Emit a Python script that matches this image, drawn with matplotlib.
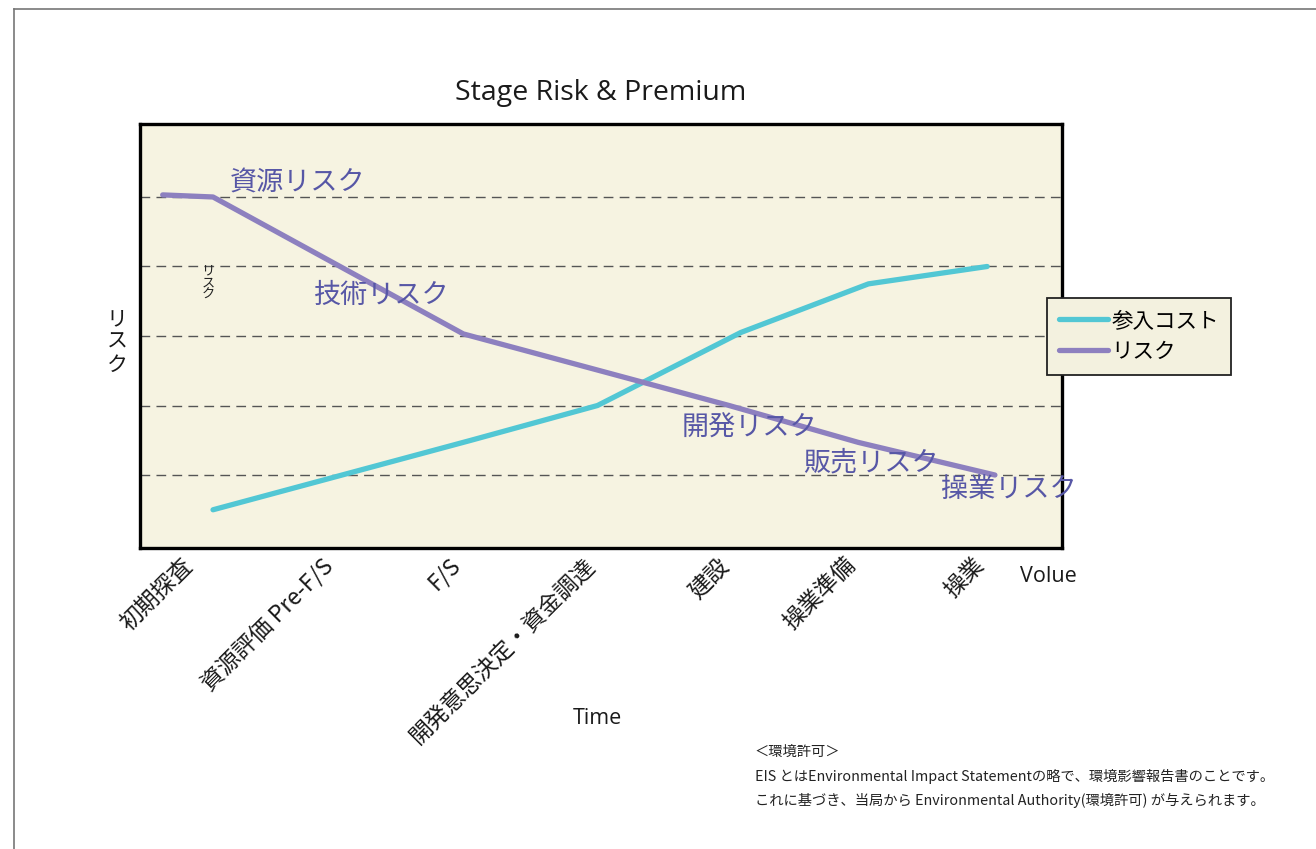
import matplotlib
matplotlib.use("Agg")
import matplotlib.pyplot as plt
from matplotlib.lines import Line2D
from matplotlib.transforms import ScaledTranslation

plt.rcParams['font.family'] = ['Noto Sans CJK JP', 'DejaVu Sans']

# ---- data ----
categories = ["初期探査", "資源評価 Pre-F/S", "F/S", "開発意思決定・資金調達", "建設", "操業準備", "操業"]
category_pos = [-0.12, 0.97, 1.96, 3.0, 4.04, 5.02, 6.02]
cost_x = [0, 1, 2, 2.98, 4.09, 5.08, 6.0]
cost_y = [0.50, 1.0, 1.5, 2.0, 3.05, 3.75, 4.0]
risk_x = [-0.39, 0, 1.94, 3.0, 4.0, 5.0, 6.06]
risk_y = [5.03, 5.0, 3.03, 2.5, 2.0, 1.47, 1.0]
grid_levels = [1, 2, 3, 4, 5]
risk_labels = ["資源リスク", "技術リスク", "開発リスク", "販売リスク", "操業リスク"]
risk_label_x = [0.13, 0.78, 3.63, 4.57, 5.64]
risk_label_y = [5.21, 3.58, 1.68, 1.17, 0.79]
legend_labels = ["参入コスト", "リスク"]

cyan = "#52c7d4"
purple = "#8d80bf"
text_blue = "#5757a6"
bg = "#f6f3e1"

fig = plt.figure(figsize=(13.16, 8.49), dpi=100)
fig.patch.set_facecolor("white")

# outer frame lines (left and top)
fig.add_artist(Line2D([14/1316, 14/1316], [0, 1 - 9/849], transform=fig.transFigure, color="#777777", lw=1.2))
fig.add_artist(Line2D([14/1316, 1], [1 - 9/849, 1 - 9/849], transform=fig.transFigure, color="#777777", lw=1.2))

ax = fig.add_axes([140/1316, 1 - 548/849, (1062 - 140)/1316, (548 - 124)/849])
ax.set_facecolor(bg)
for s in ax.spines.values():
    s.set_linewidth(2.4)
    s.set_color("black")

ax.set_xlim(-0.566, 6.58)
ax.set_ylim(-0.05, 6.05)

for g in grid_levels:
    ax.axhline(g, color="#555555", lw=1.0, ls=(0, (7, 4.5)), zorder=1)

ax.plot(cost_x, cost_y, color=cyan, lw=3.8, solid_capstyle="round", zorder=3, label=legend_labels[0])
ax.plot(risk_x, risk_y, color=purple, lw=3.8, solid_capstyle="round", zorder=3, label=legend_labels[1])

for t, x, y in zip(risk_labels, risk_label_x, risk_label_y):
    ax.text(x, y, t, color=text_blue, fontsize=19.5, ha="left", va="center", zorder=4)

ax.text(-0.04, 3.76, "リ\nス\nク", fontsize=9.5, ha="center", va="center", linespacing=0.95, color="#222222")

ax.set_yticks([])
ax.set_xticks(category_pos)
ax.set_xticklabels(categories, rotation=45, ha="right", rotation_mode="anchor", fontsize=16.5, color="#1a1a1a")
ax.tick_params(axis="x", length=0, pad=4)
off = ScaledTranslation(-17/100, 0, fig.dpi_scale_trans)
for lbl in ax.get_xticklabels():
    lbl.set_transform(lbl.get_transform() + off)

ax.set_title("Stage Risk & Premium", fontsize=20.5, pad=17, family=["Open Sans", "DejaVu Sans"], color="#1a1a1a")

fig.text(117/1316, 1 - 342/849, "リ\nス\nク", fontsize=15, ha="center", va="center", linespacing=1.05, color="#1a1a1a")
fig.text(597/1316, 1 - 718/849, "Time", fontsize=15.5, ha="center", va="center", family=["Open Sans", "DejaVu Sans"], color="#1a1a1a")
fig.text(1020/1316, 1 - 576/849, "Volue", fontsize=15.5, ha="left", va="center", family=["Open Sans", "DejaVu Sans"], color="#1a1a1a")

leg = ax.legend(loc="upper left", bbox_to_anchor=(1047/1316, 1 - 298/849), bbox_transform=fig.transFigure,
                borderaxespad=0, fancybox=False, framealpha=1, facecolor="#f3f1df", edgecolor="#222222",
                fontsize=15.5, handlelength=2.3, handletextpad=0.15, labelspacing=0.42, borderpad=0.55)
leg.get_frame().set_linewidth(1.3)
leg.set_zorder(10)

notes = ["＜環境許可＞",
         "EIS とはEnvironmental Impact Statementの略で、環境影響報告書のことです。",
         "これに基づき、当局から Environmental Authority(環境許可) が与えられます。"]
note_y = [752, 776, 800]
for t, y in zip(notes, note_y):
    fig.text(755/1316, 1 - y/849, t, fontsize=10.3, ha="left", va="center", color="#222222")

fig.savefig("out.png", dpi=100, facecolor="white")
